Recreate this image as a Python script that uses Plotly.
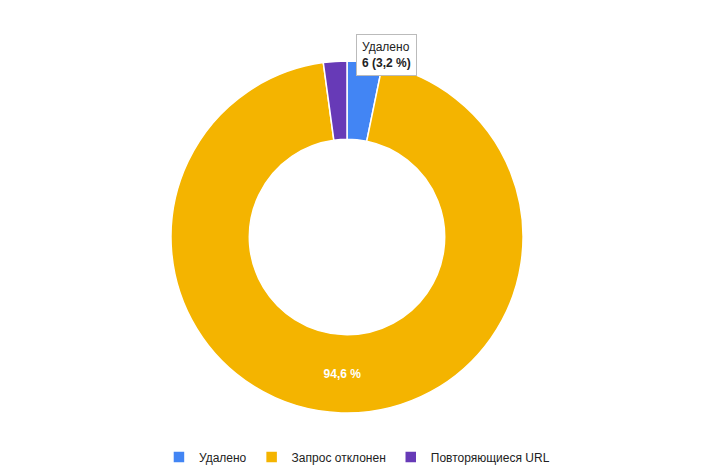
import plotly.graph_objects as go

labels = ["Удалено", "Запрос отклонен", "Повторяющиеся URL"]
values = [6, 176, 4]
colors = ["#4285f4", "#f4b400", "#673ab7"]
slice_text = ["", "<b>94,6 %</b>", ""]

fig = go.Figure(go.Pie(
    labels=labels, values=values, hole=0.555, sort=False, direction="clockwise",
    rotation=0, marker=dict(colors=colors, line=dict(color="white", width=1.5)),
    text=slice_text, textinfo="text", textposition="inside",
    insidetextfont=dict(color="white", size=12, family="Arial"),
    domain=dict(x=[163/727, 515/727], y=[1-406/473, 1-52/473]),
    showlegend=True,
))
fig.update_layout(
    width=727, height=473, margin=dict(l=0, r=0, t=0, b=0),
    paper_bgcolor="white", plot_bgcolor="white",
    font=dict(family="Arial", size=12, color="#222"),
    legend=dict(orientation="h", x=0.48, xanchor="center", y=0.02, yanchor="bottom",
                font=dict(size=12, color="#222"), itemwidth=30),
    annotations=[dict(x=378/727, y=1-26/473, xref="paper", yref="paper",
                      text="Удалено<br><b>6 (3,2 %)</b>", showarrow=False, align="left",
                      bgcolor="white", bordercolor="#bbb", borderwidth=1, borderpad=5,
                      font=dict(size=12, color="#222"))],
)
fig.write_html("out.html")
